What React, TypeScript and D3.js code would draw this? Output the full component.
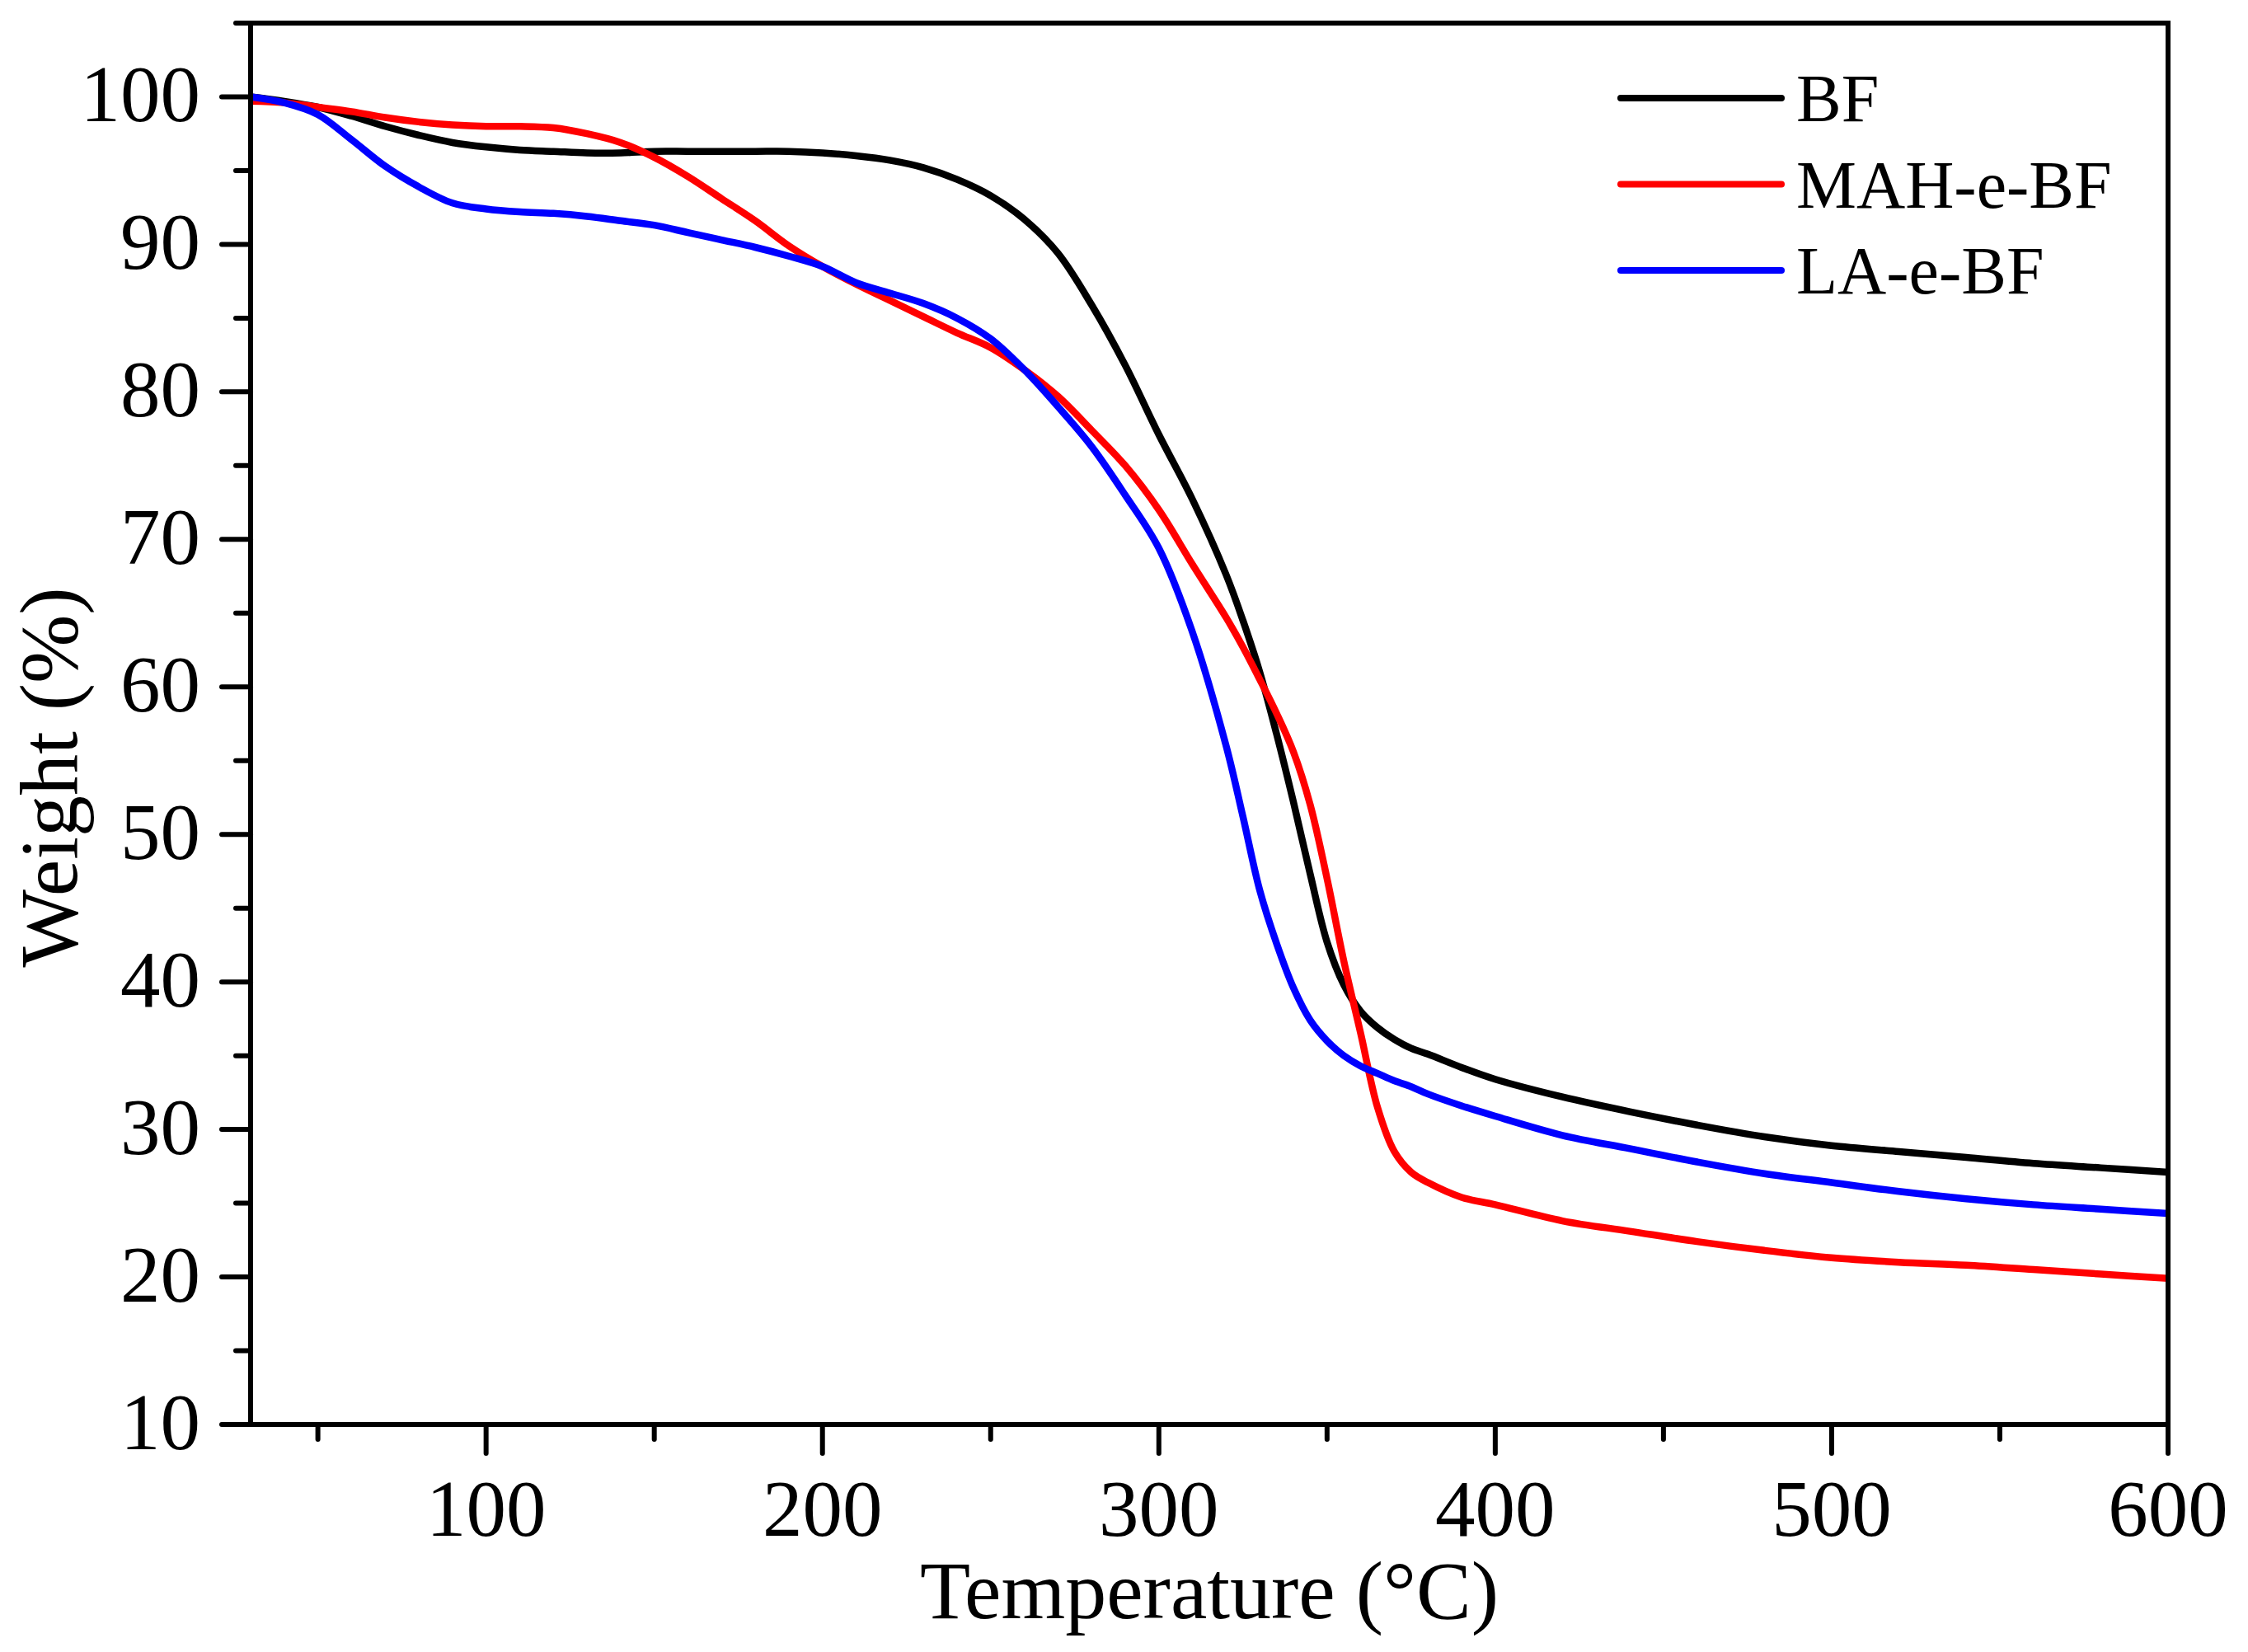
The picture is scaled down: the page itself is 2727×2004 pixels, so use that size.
import React from "react";
import * as d3 from "d3";

// TGA curves
const temperature = [
  30, 40, 50, 60, 70, 80, 90, 100, 110, 120,
  130, 140, 150, 160, 170, 180, 190, 200, 210, 220,
  230, 240, 250, 260, 270, 280, 290, 300, 310, 320,
  325, 330, 335, 340, 345, 350, 355, 360, 365, 370,
  375, 380, 390, 400, 420, 440, 460, 480, 500, 520,
  540, 560, 580, 600,
];

const bfWeight = [
  100.0, 99.7, 99.3, 98.7, 98.0, 97.4, 96.9, 96.6, 96.4, 96.3,
  96.2, 96.2, 96.3, 96.3, 96.3, 96.3, 96.3, 96.2, 96.0, 95.7,
  95.2, 94.4, 93.3, 91.7, 89.4, 85.9, 81.8, 77.1, 72.7, 67.6,
  64.5, 61.0, 56.8, 52.2, 47.3, 42.7, 39.8, 38.0, 36.9, 36.1,
  35.5, 35.1, 34.2, 33.4, 32.2, 31.2, 30.3, 29.5, 28.9, 28.5,
  28.1, 27.7, 27.4, 27.1,
];

const mahWeight = [
  99.7, 99.6, 99.3, 99.0, 98.6, 98.3, 98.1, 98.0, 98.0, 97.9,
  97.5, 96.9, 95.9, 94.6, 93.1, 91.6, 89.9, 88.5, 87.3, 86.2,
  85.1, 84.0, 83.0, 81.5, 79.7, 77.4, 75.0, 72.0, 68.3, 64.7,
  62.7, 60.5, 58.2, 55.6, 52.0, 47.0, 41.4, 36.5, 31.5, 28.5,
  27.1, 26.4, 25.4, 24.9, 23.8, 23.1, 22.4, 21.8, 21.3, 21.0,
  20.8, 20.5, 20.2, 19.9,
];

const laWeight = [
  100.0, 99.6, 98.8, 97.1, 95.3, 93.9, 92.8, 92.4, 92.2, 92.1,
  91.9, 91.6, 91.3, 90.8, 90.3, 89.8, 89.2, 88.5, 87.4, 86.7,
  86.0, 85.0, 83.6, 81.5, 79.0, 76.3, 73.0, 69.4, 63.7, 56.0,
  51.2, 46.2, 42.6, 39.6, 37.4, 36.0, 35.0, 34.3, 33.8, 33.3,
  32.9, 32.4, 31.6, 30.9, 29.6, 28.7, 27.8, 27.0, 26.4, 25.8,
  25.3, 24.9, 24.6, 24.3,
];

const seriesNames = ["BF", "MAH-e-BF", "LA-e-BF"];
const seriesColors = ["#000000", "#ff0000", "#0000ff"];

const xMajorTicks = [100, 200, 300, 400, 500, 600];
const xMinorTicks = [50, 150, 250, 350, 450, 550];
const yMajorTicks = [10, 20, 30, 40, 50, 60, 70, 80, 90, 100];
const yMinorTicks = [15, 25, 35, 45, 55, 65, 75, 85, 95, 105];

const W = 2727;
const H = 2004;
const left = 304;
const right = 2630;
const top = 28;
const bottom = 1728;
const font = "'Liberation Serif', 'Times New Roman', serif";

export default function App() {
  const x = d3.scaleLinear().domain([30, 600]).range([left, right]);
  const y = d3.scaleLinear().domain([10, 105]).range([bottom, top]);

  const line = d3
    .line<number>()
    .x((_, i) => x(temperature[i]))
    .y((d) => y(d))
    .curve(d3.curveCatmullRom.alpha(0.5));

  const series = [bfWeight, mahWeight, laWeight];
  const legendY = d3.scaleLinear().domain([0, 1]).range([119, 223.5]);

  return (
    <svg
      width={W}
      height={H}
      style={{ position: "absolute", left: 0, top: 0, background: "#fff" }}
      fontFamily={font}
    >
      <rect x={0} y={0} width={W} height={H} fill="#fff" />

      {/* curves */}
      {series.map((s, i) => (
        <path
          key={seriesNames[i]}
          d={line(s) ?? ""}
          fill="none"
          stroke={seriesColors[i]}
          strokeWidth={8.5}
          strokeLinejoin="round"
        />
      ))}

      {/* frame */}
      <rect
        x={left}
        y={top}
        width={right - left}
        height={bottom - top}
        fill="none"
        stroke="#000"
        strokeWidth={6}
      />

      {/* x ticks */}
      {xMajorTicks.map((t) => (
        <g key={"xm" + t}>
          <line x1={x(t)} x2={x(t)} y1={bottom} y2={bottom + 35} stroke="#000" strokeWidth={6} strokeLinecap="round" />
          <text x={x(t)} y={bottom + 135} textAnchor="middle" fontSize={97}>
            {t}
          </text>
        </g>
      ))}
      {xMinorTicks.map((t) => (
        <line key={"xn" + t} x1={x(t)} x2={x(t)} y1={bottom} y2={bottom + 18} stroke="#000" strokeWidth={6} strokeLinecap="round" />
      ))}

      {/* y ticks */}
      {yMajorTicks.map((t) => (
        <g key={"ym" + t}>
          <line x1={left - 35} x2={left} y1={y(t)} y2={y(t)} stroke="#000" strokeWidth={6} strokeLinecap="round" />
          <text x={243} y={y(t) + 30} textAnchor="end" fontSize={97}>
            {t}
          </text>
        </g>
      ))}
      {yMinorTicks.map((t) => (
        <line key={"yn" + t} x1={left - 18} x2={left} y1={y(t)} y2={y(t)} stroke="#000" strokeWidth={6} strokeLinecap="round" />
      ))}

      {/* axis titles */}
      <text x={(left + right) / 2} y={1963} textAnchor="middle" fontSize={100}>
        Temperature (°C)
      </text>
      <text transform="translate(93,943) rotate(-90)" textAnchor="middle" fontSize={100}>
        Weight (%)
      </text>

      {/* legend */}
      {seriesNames.map((name, i) => (
        <g key={"lg" + name}>
          <line
            x1={1966}
            x2={2161}
            y1={legendY(i)}
            y2={legendY(i)}
            stroke={seriesColors[i]}
            strokeWidth={8}
            strokeLinecap="round"
          />
          <text x={2179} y={legendY(i) + 28} fontSize={82}>
            {name}
          </text>
        </g>
      ))}
    </svg>
  );
}
